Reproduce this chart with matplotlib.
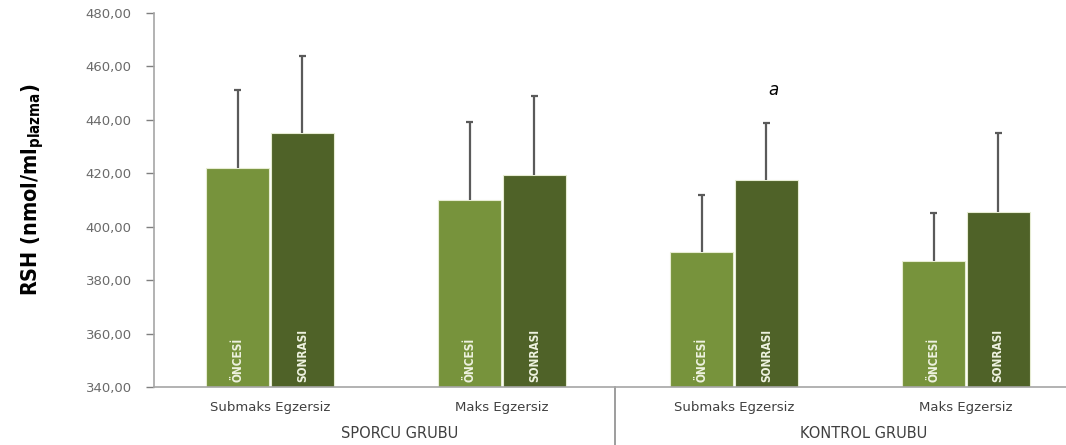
import numpy as np
import matplotlib
matplotlib.use("Agg")
import matplotlib.pyplot as plt
from matplotlib.ticker import FuncFormatter
from matplotlib.transforms import blended_transform_factory

categories = ['Submaks Egzersiz', 'Maks Egzersiz', 'Submaks Egzersiz', 'Maks Egzersiz']
groups = ['SPORCU GRUBU', 'KONTROL GRUBU']
oncesi = [422.0, 410.0, 390.6, 387.0]
oncesi_err = [29.0, 29.2, 21.3, 18.1]
sonrasi = [435.0, 419.3, 417.5, 405.5]
sonrasi_err = [29.0, 29.6, 21.2, 29.6]

c_once = '#77933C'
c_sonra = '#4F6228'
grey = '#7f7f7f'
narrow = ['Liberation Sans Narrow', 'DejaVu Sans']

fig = plt.figure(figsize=(10.66, 4.45), dpi=100)
ax = fig.add_axes([0.1445, 0.1303, 0.8705, 0.8405])

x = np.arange(len(categories))
w = 0.272
off = 0.139
ax.bar(x - off, [v - 340 for v in oncesi], w, bottom=340, color=c_once,
       edgecolor='#e6ecd2', linewidth=0.8, zorder=2)
ax.bar(x + off, [v - 340 for v in sonrasi], w, bottom=340, color=c_sonra,
       edgecolor='#e6ecd2', linewidth=0.8, zorder=2)

# upward-only error bars
for xs, vals, errs in [(x - off, oncesi, oncesi_err), (x + off, sonrasi, sonrasi_err)]:
    tops = np.array(vals) + np.array(errs)
    ax.vlines(xs, vals, tops, color='#5a5a5a', lw=1.6, zorder=3)
    ax.hlines(tops, xs - 0.015, xs + 0.015, color='#5a5a5a', lw=1.6, zorder=3)

for xi in x:
    ax.text(xi - off, 342, 'ÖNCESİ', rotation=90, ha='center', va='bottom',
            color='#eef2e0', fontsize=8.5, family=narrow, fontstretch='condensed',
            fontweight='bold', zorder=4)
    ax.text(xi + off, 342, 'SONRASI', rotation=90, ha='center', va='bottom',
            color='#eef2e0', fontsize=8.5, family=narrow, fontstretch='condensed',
            fontweight='bold', zorder=4)

ax.text(2.17, 451, 'a', style='italic', fontsize=12, ha='center', va='center')

ax.set_xlim(-0.5, 3.5)
ax.set_ylim(340, 480)
ax.set_yticks(np.arange(340, 481, 20))
ax.yaxis.set_major_formatter(FuncFormatter(lambda v, p: f'{v:.2f}'.replace('.', ',')))
ax.tick_params(axis='y', colors=grey, labelcolor='#6a6a6a', labelsize=9.5,
               length=6, width=1, pad=10)
ax.set_xticks([])
for s in ['top', 'right']:
    ax.spines[s].set_visible(False)
ax.spines['left'].set_color('#a6a6a6')
ax.spines['bottom'].set_color('#a6a6a6')
ax.spines['left'].set_linewidth(1.2)
ax.spines['bottom'].set_linewidth(1.2)

trans = blended_transform_factory(ax.transData, ax.transAxes)
for xi, lab in zip(x, categories):
    ax.text(xi, -0.055, lab, transform=trans, ha='center', va='center',
            fontsize=9.5, color='#404040')
for gx, g in zip([0.56, 2.56], groups):
    ax.text(gx, -0.125, g, transform=trans, ha='center', va='center',
            fontsize=10.5, color='#404040')
ax.plot([1.487, 1.487], [0, -0.16], transform=trans, color='#8c8c8c',
        lw=1.2, clip_on=False)

fig.text(0.031, 0.575, 'RSH (nmol/ml$_{\\mathregular{plazma}}$)', rotation=90,
         ha='center', va='center', fontsize=15.5, fontweight='bold',
         family=narrow, fontstretch='condensed')

fig.savefig('out.png', dpi=100)
